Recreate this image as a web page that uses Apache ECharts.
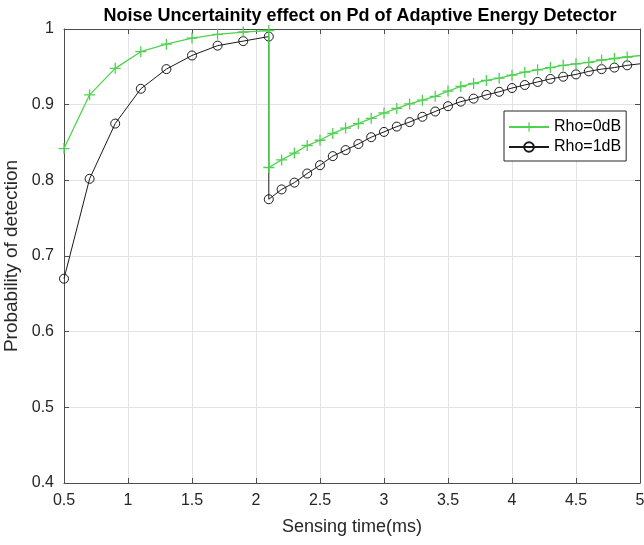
<!DOCTYPE html>
<html>
<head>
<meta charset="utf-8">
<script src="https://cdn.jsdelivr.net/npm/echarts@6/dist/echarts.min.js"></script>
<style>
html,body{margin:0;padding:0;background:#fff;}
#chart{width:644px;height:545px;}
</style>
</head>
<body>
<div id="chart"></div>
<script>
// Sensing time (ms)
const xTime = [0.5,0.7,0.9,1.1,1.3,1.5,1.7,1.9,2.1,
  2.1,2.2,2.3,2.4,2.5,2.6,2.7,2.8,2.9,3.0,3.1,3.2,3.3,3.4,3.5,
  3.6,3.7,3.8,3.9,4.0,4.1,4.2,4.3,4.4,4.5,4.6,4.7,4.8,4.9,5.0];
// Rho = 0 dB
const rho0 = [0.842,0.913,0.948,0.970,0.980,0.988,0.993,0.996,0.998,
  0.817,0.827,0.836,0.846,0.853,0.862,0.869,0.875,0.882,0.889,0.895,0.901,0.906,0.911,0.918,
  0.924,0.928,0.932,0.935,0.939,0.943,0.946,0.949,0.952,0.954,0.956,0.959,0.961,0.963,0.965];
// Rho = 1 dB
const rho1 = [0.670,0.802,0.875,0.921,0.947,0.965,0.978,0.984,0.990,
  0.775,0.788,0.797,0.809,0.820,0.832,0.840,0.848,0.857,0.864,0.871,0.877,0.884,0.891,0.898,
  0.904,0.908,0.913,0.917,0.922,0.926,0.930,0.934,0.937,0.940,0.944,0.947,0.949,0.952,0.954];
const seriesNames = ['Rho=0dB','Rho=1dB'];
const xTicks = {min:0.5, max:5, step:0.5};
const yTicks = {min:0.4, max:1, step:0.1};

const FONT = 'Liberation Sans, Arial, Helvetica, sans-serif';
const GREEN = '#4fd24f';
const BLACK = '#1a1a1a';
const AXIS = '#4d4d4d';
const TXT = '#262626';
const PLUS = 'path://M4.4,0H5.6V4.4H10V5.6H5.6V10H4.4V5.6H0V4.4H4.4Z';

function toData(ys){
  return ys.map((y,i)=>({value:[xTime[i],y], symbol: (xTime[i]===5.0 ? 'none' : undefined)}));
}

const chart = echarts.init(document.getElementById('chart'), null, {renderer:'canvas'});
const axisCommon = {
  axisLine:{show:true, onZero:false, lineStyle:{color:AXIS, width:1}},
  axisTick:{show:true, inside:true, length:5, lineStyle:{color:AXIS}},
  splitLine:{show:false},
};
chart.setOption({
  animation:false,
  backgroundColor:'#fff',
  title:{
    text:'Noise Uncertainity effect on Pd of Adaptive Energy Detector',
    left:355, top:2, textAlign:'center',
    textStyle:{fontFamily:FONT, fontSize:18, fontWeight:'bold', color:'#000'}
  },
  grid:{left:64, right:4, top:29, bottom:62, containLabel:false, outerBoundsMode:'none'},
  legend:{
    orient:'vertical', left:504, top:111,
    backgroundColor:'#fff', borderColor:'#262626', borderWidth:1,
    padding:[8,5,6,4], itemGap:4, itemWidth:40, itemHeight:12,
    textStyle:{fontFamily:FONT, fontSize:16, lineHeight:16, color:'#000'},
    data:seriesNames
  },
  xAxis:[
    Object.assign({}, axisCommon, {
      type:'value', min:xTicks.min, max:xTicks.max, interval:xTicks.step, position:'bottom',
      name:'Sensing time(ms)', nameLocation:'middle', nameGap:35,
      nameTextStyle:{fontFamily:FONT, fontSize:18, color:TXT},
      axisLabel:{fontFamily:FONT, fontSize:16, color:TXT, margin:10},
      splitLine:{show:true, lineStyle:{color:'#e3e3e3', width:1}}
    }),
    Object.assign({}, axisCommon, {
      type:'value', min:xTicks.min, max:xTicks.max, interval:xTicks.step, position:'top',
      axisLabel:{show:false}
    })
  ],
  yAxis:[
    Object.assign({}, axisCommon, {
      type:'value', min:yTicks.min, max:yTicks.max, interval:yTicks.step, position:'left',
      name:'Probability of detection', nameLocation:'middle', nameGap:37,
      nameTextStyle:{fontFamily:FONT, fontSize:19, color:TXT},
      axisLabel:{fontFamily:FONT, fontSize:16, color:TXT, margin:10,
        formatter:v=>String(+v.toFixed(1))},
      splitLine:{show:true, lineStyle:{color:'#e3e3e3', width:1}}
    }),
    Object.assign({}, axisCommon, {
      type:'value', min:yTicks.min, max:yTicks.max, interval:yTicks.step, position:'right',
      axisLabel:{show:false}
    })
  ],
  series:[
    {
      name:seriesNames[0], type:'line', data:toData(rho0),
      symbol:PLUS, symbolSize:11, showAllSymbol:true,
      lineStyle:{color:GREEN, width:1.3},
      itemStyle:{color:GREEN, borderWidth:0},
      z:3
    },
    {
      name:seriesNames[1], type:'line', data:toData(rho1),
      symbol:'circle', symbolSize:9, showAllSymbol:true,
      lineStyle:{color:BLACK, width:1},
      itemStyle:{color:'rgba(0,0,0,0)', borderColor:BLACK, borderWidth:1},
      z:2
    }
  ]
});
</script>
</body>
</html>
